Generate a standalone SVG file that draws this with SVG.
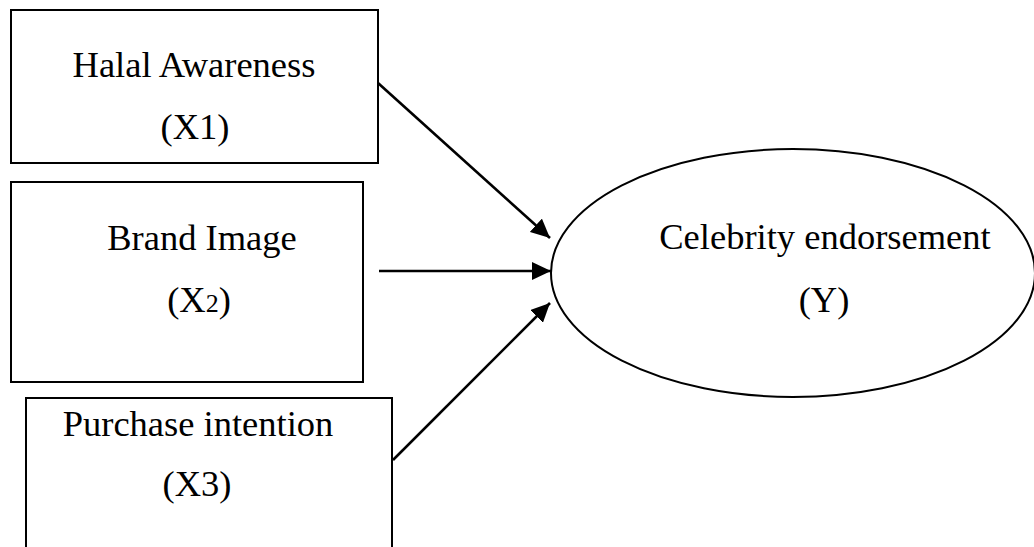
<svg xmlns="http://www.w3.org/2000/svg" width="1034" height="547" viewBox="0 0 1034 547">
<style>
.box{fill:#fff;stroke:#000;stroke-width:2}
.lbl{font-family:"Liberation Serif","Times New Roman",serif;font-size:36.5px;fill:#000;text-anchor:middle}
.conn{stroke:#000;stroke-width:2.6;fill:none}
</style>
<defs>
<marker id="arr" markerUnits="userSpaceOnUse" markerWidth="20" markerHeight="18" refX="19" refY="9" orient="auto">
<path d="M0,0 L19,9 L0,18 Z" fill="#000"/>
</marker>
</defs>
<rect width="1034" height="547" fill="#fff"/>
<g id="halal">
<rect class="box" x="11" y="10" width="367" height="153"/>
<text class="lbl" x="194" y="77">Halal Awareness</text>
<text class="lbl" x="195" y="139">(X1)</text>
</g>
<g id="brand">
<rect class="box" x="11" y="182" width="352" height="200"/>
<text class="lbl" x="202" y="250">Brand Image</text>
<text class="lbl" x="199" y="312">(X<tspan font-size="26">2</tspan>)</text>
</g>
<g id="purchase">
<rect class="box" x="26" y="398" width="366" height="160"/>
<text class="lbl" x="198" y="436">Purchase intention</text>
<text class="lbl" x="197" y="496">(X3)</text>
</g>
<g id="celebrity">
<ellipse class="box" cx="793" cy="273" rx="242" ry="124"/>
<text class="lbl" x="825" y="249">Celebrity endorsement</text>
<text class="lbl" x="824" y="312">(Y)</text>
</g>
<g id="connectors">
<line class="conn" x1="378" y1="83" x2="550" y2="238" marker-end="url(#arr)"/>
<line class="conn" x1="379" y1="271" x2="551" y2="271" marker-end="url(#arr)"/>
<line class="conn" x1="393" y1="460" x2="550" y2="303" marker-end="url(#arr)"/>
</g>
</svg>
